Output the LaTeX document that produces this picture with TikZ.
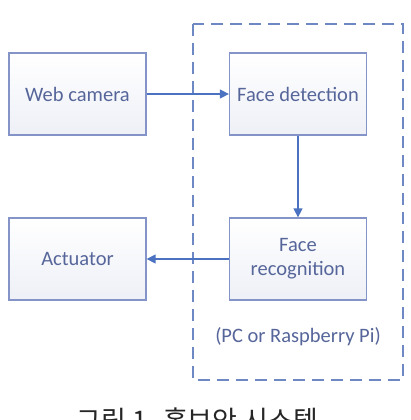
\documentclass[tikz,border=0pt]{standalone}
\usepackage{fontspec}
\setmainfont{Carlito}
\newfontfamily\krfont{Noto Sans CJK KR}
\usetikzlibrary{arrows.meta}
\definecolor{boxline}{HTML}{8494C8}
\definecolor{boxtext}{HTML}{56669A}
\definecolor{arrowc}{HTML}{4A72C0}
\definecolor{dashc}{HTML}{6E88C4}
\definecolor{fillb}{HTML}{EEF0F7}
\tikzset{
  blockbox/.style={draw=boxline, line width=1.3pt, top color=white, bottom color=fillb,
    minimum width=137pt, minimum height=82pt, inner sep=0pt, text=boxtext,
    font=\fontsize{20.5}{24}\selectfont, align=center},
  flow/.style={draw=arrowc, line width=1.4pt, -{Triangle[length=9pt,width=9pt]}},
  groupbox/.style={draw=dashc, line width=1.6pt, dash pattern=on 12pt off 7pt}
}
\begin{document}
\begin{tikzpicture}[x=1pt,y=-1pt]
\useasboundingbox (0,0) rectangle (411,420);
\clip (0,0) rectangle (411,420);
\fill[white] (0,0) rectangle (411,420);
\draw[groupbox] (193,24) rectangle (403,380);
\node[blockbox] (cam) at (77.5,94) {Web camera};
\node[blockbox] (det) at (298,94) {Face detection};
\node[blockbox] (act) at (77.5,259) {Actuator};
\node[blockbox] (rec) at (298,259) {Face\\recognition};
\node[text=boxtext, font=\fontsize{20.5}{24}\selectfont] (pc) at (298,337) {(PC or Raspberry Pi)};
\draw[flow] (cam.east) -- (det.west);
\draw[flow] (det.south) -- (rec.north);
\draw[flow] (rec.west) -- (act.east);
\node[anchor=base, font=\krfont\fontsize{27}{31}\selectfont, text=black!85] (cap) at (197.5,430) {그림 1. 홈보안 시스템};
\end{tikzpicture}
\end{document}
